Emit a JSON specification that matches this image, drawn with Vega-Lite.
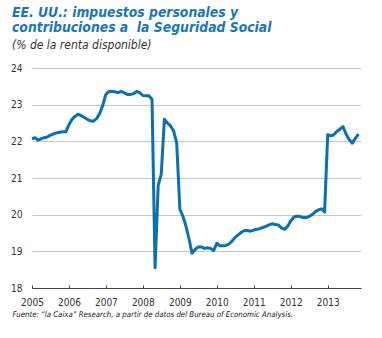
{
  "$schema": "https://vega.github.io/schema/vega-lite/v6.json",
  "width": 329,
  "height": 220,
  "autosize": {"type": "none"},
  "padding": {"left": 32, "top": 68, "right": 21, "bottom": 50},
  "background": "white",
  "title": {
    "text": ["EE. UU.: impuestos personales y", "contribuciones a\u00a0 la Seguridad Social"],
    "subtitle": "(% de la renta disponible)",
    "anchor": "start",
    "frame": "group",
    "dx": -20,
    "font": "Liberation Sans Narrow, DejaVu Sans Condensed, sans-serif",
    "fontSize": 13.8,
    "fontWeight": "bold",
    "fontStyle": "italic",
    "color": "#1a75bb",
    "lineHeight": 15.5,
    "subtitleFont": "Liberation Sans Narrow, DejaVu Sans Condensed, sans-serif",
    "subtitleFontSize": 12,
    "subtitleFontStyle": "italic",
    "subtitleColor": "#333333",
    "subtitlePadding": 5,
    "offset": 12
  },
  "data": {
    "values": [
      {"date": "2005/01/01", "v": 22.07}, {"date": "2005/02/01", "v": 22.10}, {"date": "2005/03/01", "v": 22.03}, {"date": "2005/04/01", "v": 22.07},
      {"date": "2005/05/01", "v": 22.10}, {"date": "2005/06/01", "v": 22.12}, {"date": "2005/07/01", "v": 22.17}, {"date": "2005/08/01", "v": 22.20},
      {"date": "2005/09/01", "v": 22.23}, {"date": "2005/10/01", "v": 22.25}, {"date": "2005/11/01", "v": 22.26}, {"date": "2005/12/01", "v": 22.26},
      {"date": "2006/01/01", "v": 22.45}, {"date": "2006/02/01", "v": 22.60}, {"date": "2006/03/01", "v": 22.68}, {"date": "2006/04/01", "v": 22.74},
      {"date": "2006/05/01", "v": 22.70}, {"date": "2006/06/01", "v": 22.65}, {"date": "2006/07/01", "v": 22.60}, {"date": "2006/08/01", "v": 22.56},
      {"date": "2006/09/01", "v": 22.55}, {"date": "2006/10/01", "v": 22.62}, {"date": "2006/11/01", "v": 22.76}, {"date": "2006/12/01", "v": 22.98},
      {"date": "2007/01/01", "v": 23.28}, {"date": "2007/02/01", "v": 23.36}, {"date": "2007/03/01", "v": 23.36}, {"date": "2007/04/01", "v": 23.35},
      {"date": "2007/05/01", "v": 23.33}, {"date": "2007/06/01", "v": 23.36}, {"date": "2007/07/01", "v": 23.32}, {"date": "2007/08/01", "v": 23.28},
      {"date": "2007/09/01", "v": 23.28}, {"date": "2007/10/01", "v": 23.30}, {"date": "2007/11/01", "v": 23.36}, {"date": "2007/12/01", "v": 23.33},
      {"date": "2008/01/01", "v": 23.25}, {"date": "2008/02/01", "v": 23.24}, {"date": "2008/03/01", "v": 23.24}, {"date": "2008/04/01", "v": 23.15},
      {"date": "2008/05/01", "v": 18.55}, {"date": "2008/06/01", "v": 20.80}, {"date": "2008/07/01", "v": 21.10}, {"date": "2008/08/01", "v": 22.60},
      {"date": "2008/09/01", "v": 22.50}, {"date": "2008/10/01", "v": 22.42}, {"date": "2008/11/01", "v": 22.28}, {"date": "2008/12/01", "v": 21.95},
      {"date": "2009/01/01", "v": 20.15}, {"date": "2009/02/01", "v": 19.95}, {"date": "2009/03/01", "v": 19.70}, {"date": "2009/04/01", "v": 19.35},
      {"date": "2009/05/01", "v": 18.95}, {"date": "2009/06/01", "v": 19.05}, {"date": "2009/07/01", "v": 19.12}, {"date": "2009/08/01", "v": 19.12},
      {"date": "2009/09/01", "v": 19.08}, {"date": "2009/10/01", "v": 19.10}, {"date": "2009/11/01", "v": 19.08}, {"date": "2009/12/01", "v": 19.02},
      {"date": "2010/01/01", "v": 19.22}, {"date": "2010/02/01", "v": 19.15}, {"date": "2010/03/01", "v": 19.15}, {"date": "2010/04/01", "v": 19.16},
      {"date": "2010/05/01", "v": 19.20}, {"date": "2010/06/01", "v": 19.28}, {"date": "2010/07/01", "v": 19.38}, {"date": "2010/08/01", "v": 19.45},
      {"date": "2010/09/01", "v": 19.52}, {"date": "2010/10/01", "v": 19.57}, {"date": "2010/11/01", "v": 19.57}, {"date": "2010/12/01", "v": 19.55},
      {"date": "2011/01/01", "v": 19.58}, {"date": "2011/02/01", "v": 19.60}, {"date": "2011/03/01", "v": 19.62}, {"date": "2011/04/01", "v": 19.65},
      {"date": "2011/05/01", "v": 19.68}, {"date": "2011/06/01", "v": 19.72}, {"date": "2011/07/01", "v": 19.75}, {"date": "2011/08/01", "v": 19.73},
      {"date": "2011/09/01", "v": 19.72}, {"date": "2011/10/01", "v": 19.64}, {"date": "2011/11/01", "v": 19.60}, {"date": "2011/12/01", "v": 19.68},
      {"date": "2012/01/01", "v": 19.83}, {"date": "2012/02/01", "v": 19.93}, {"date": "2012/03/01", "v": 19.96}, {"date": "2012/04/01", "v": 19.95},
      {"date": "2012/05/01", "v": 19.92}, {"date": "2012/06/01", "v": 19.92}, {"date": "2012/07/01", "v": 19.95}, {"date": "2012/08/01", "v": 20.00},
      {"date": "2012/09/01", "v": 20.08}, {"date": "2012/10/01", "v": 20.13}, {"date": "2012/11/01", "v": 20.16}, {"date": "2012/12/01", "v": 20.07},
      {"date": "2013/01/01", "v": 22.18}, {"date": "2013/02/01", "v": 22.15}, {"date": "2013/03/01", "v": 22.18}, {"date": "2013/04/01", "v": 22.27},
      {"date": "2013/05/01", "v": 22.33}, {"date": "2013/06/01", "v": 22.40}, {"date": "2013/07/01", "v": 22.20}, {"date": "2013/08/01", "v": 22.05},
      {"date": "2013/09/01", "v": 21.95}, {"date": "2013/10/01", "v": 22.08}, {"date": "2013/11/01", "v": 22.20}
    ]
  },
  "mark": {"type": "line", "color": "#0b6fb6", "strokeWidth": 3, "strokeJoin": "round", "strokeCap": "butt"},
  "encoding": {
    "x": {
      "field": "date",
      "type": "temporal",
      "scale": {"domain": [{"year": 2005, "month": 1, "date": 1}, {"year": 2013, "month": 11, "date": 26}]},
      "axis": {
        "values": [
          {"year": 2005, "month": 1, "date": 1}, {"year": 2006, "month": 1, "date": 1}, {"year": 2007, "month": 1, "date": 1},
          {"year": 2008, "month": 1, "date": 1}, {"year": 2009, "month": 1, "date": 1}, {"year": 2010, "month": 1, "date": 1},
          {"year": 2011, "month": 1, "date": 1}, {"year": 2012, "month": 1, "date": 1}, {"year": 2013, "month": 1, "date": 1}
        ],
        "format": "%Y",
        "grid": false,
        "domainColor": "#444444",
        "domainWidth": 1,
        "tickColor": "#444444",
        "tickSize": -3,
        "labelPadding": 12,
        "labelFont": "Liberation Sans Narrow, DejaVu Sans Condensed, sans-serif",
        "labelFontSize": 10,
        "labelColor": "#333333",
        "labelFlush": false,
        "title": "Fuente: “la Caixa” Research, a partir de datos del Bureau of Economic Analysis.",
        "titleFont": "Liberation Sans Narrow, DejaVu Sans Condensed, sans-serif",
        "titleFontSize": 7.8,
        "titleFontStyle": "italic",
        "titleFontWeight": "normal",
        "titleColor": "#222222",
        "titleAnchor": "start",
        "titleAlign": "left",
        "titleBaseline": "alphabetic",
        "titleX": -20,
        "titleY": 28
      }
    },
    "y": {
      "field": "v",
      "type": "quantitative",
      "scale": {"domain": [18, 24], "nice": false, "zero": false},
      "axis": {
        "values": [18, 19, 20, 21, 22, 23, 24],
        "title": null,
        "domain": false,
        "ticks": false,
        "grid": true,
        "gridColor": "#c8c8c8",
        "gridWidth": 1,
        "labelPadding": 10,
        "labelFont": "Liberation Sans Narrow, DejaVu Sans Condensed, sans-serif",
        "labelFontSize": 10,
        "labelColor": "#333333"
      }
    }
  },
  "config": {"view": {"stroke": null}}
}
